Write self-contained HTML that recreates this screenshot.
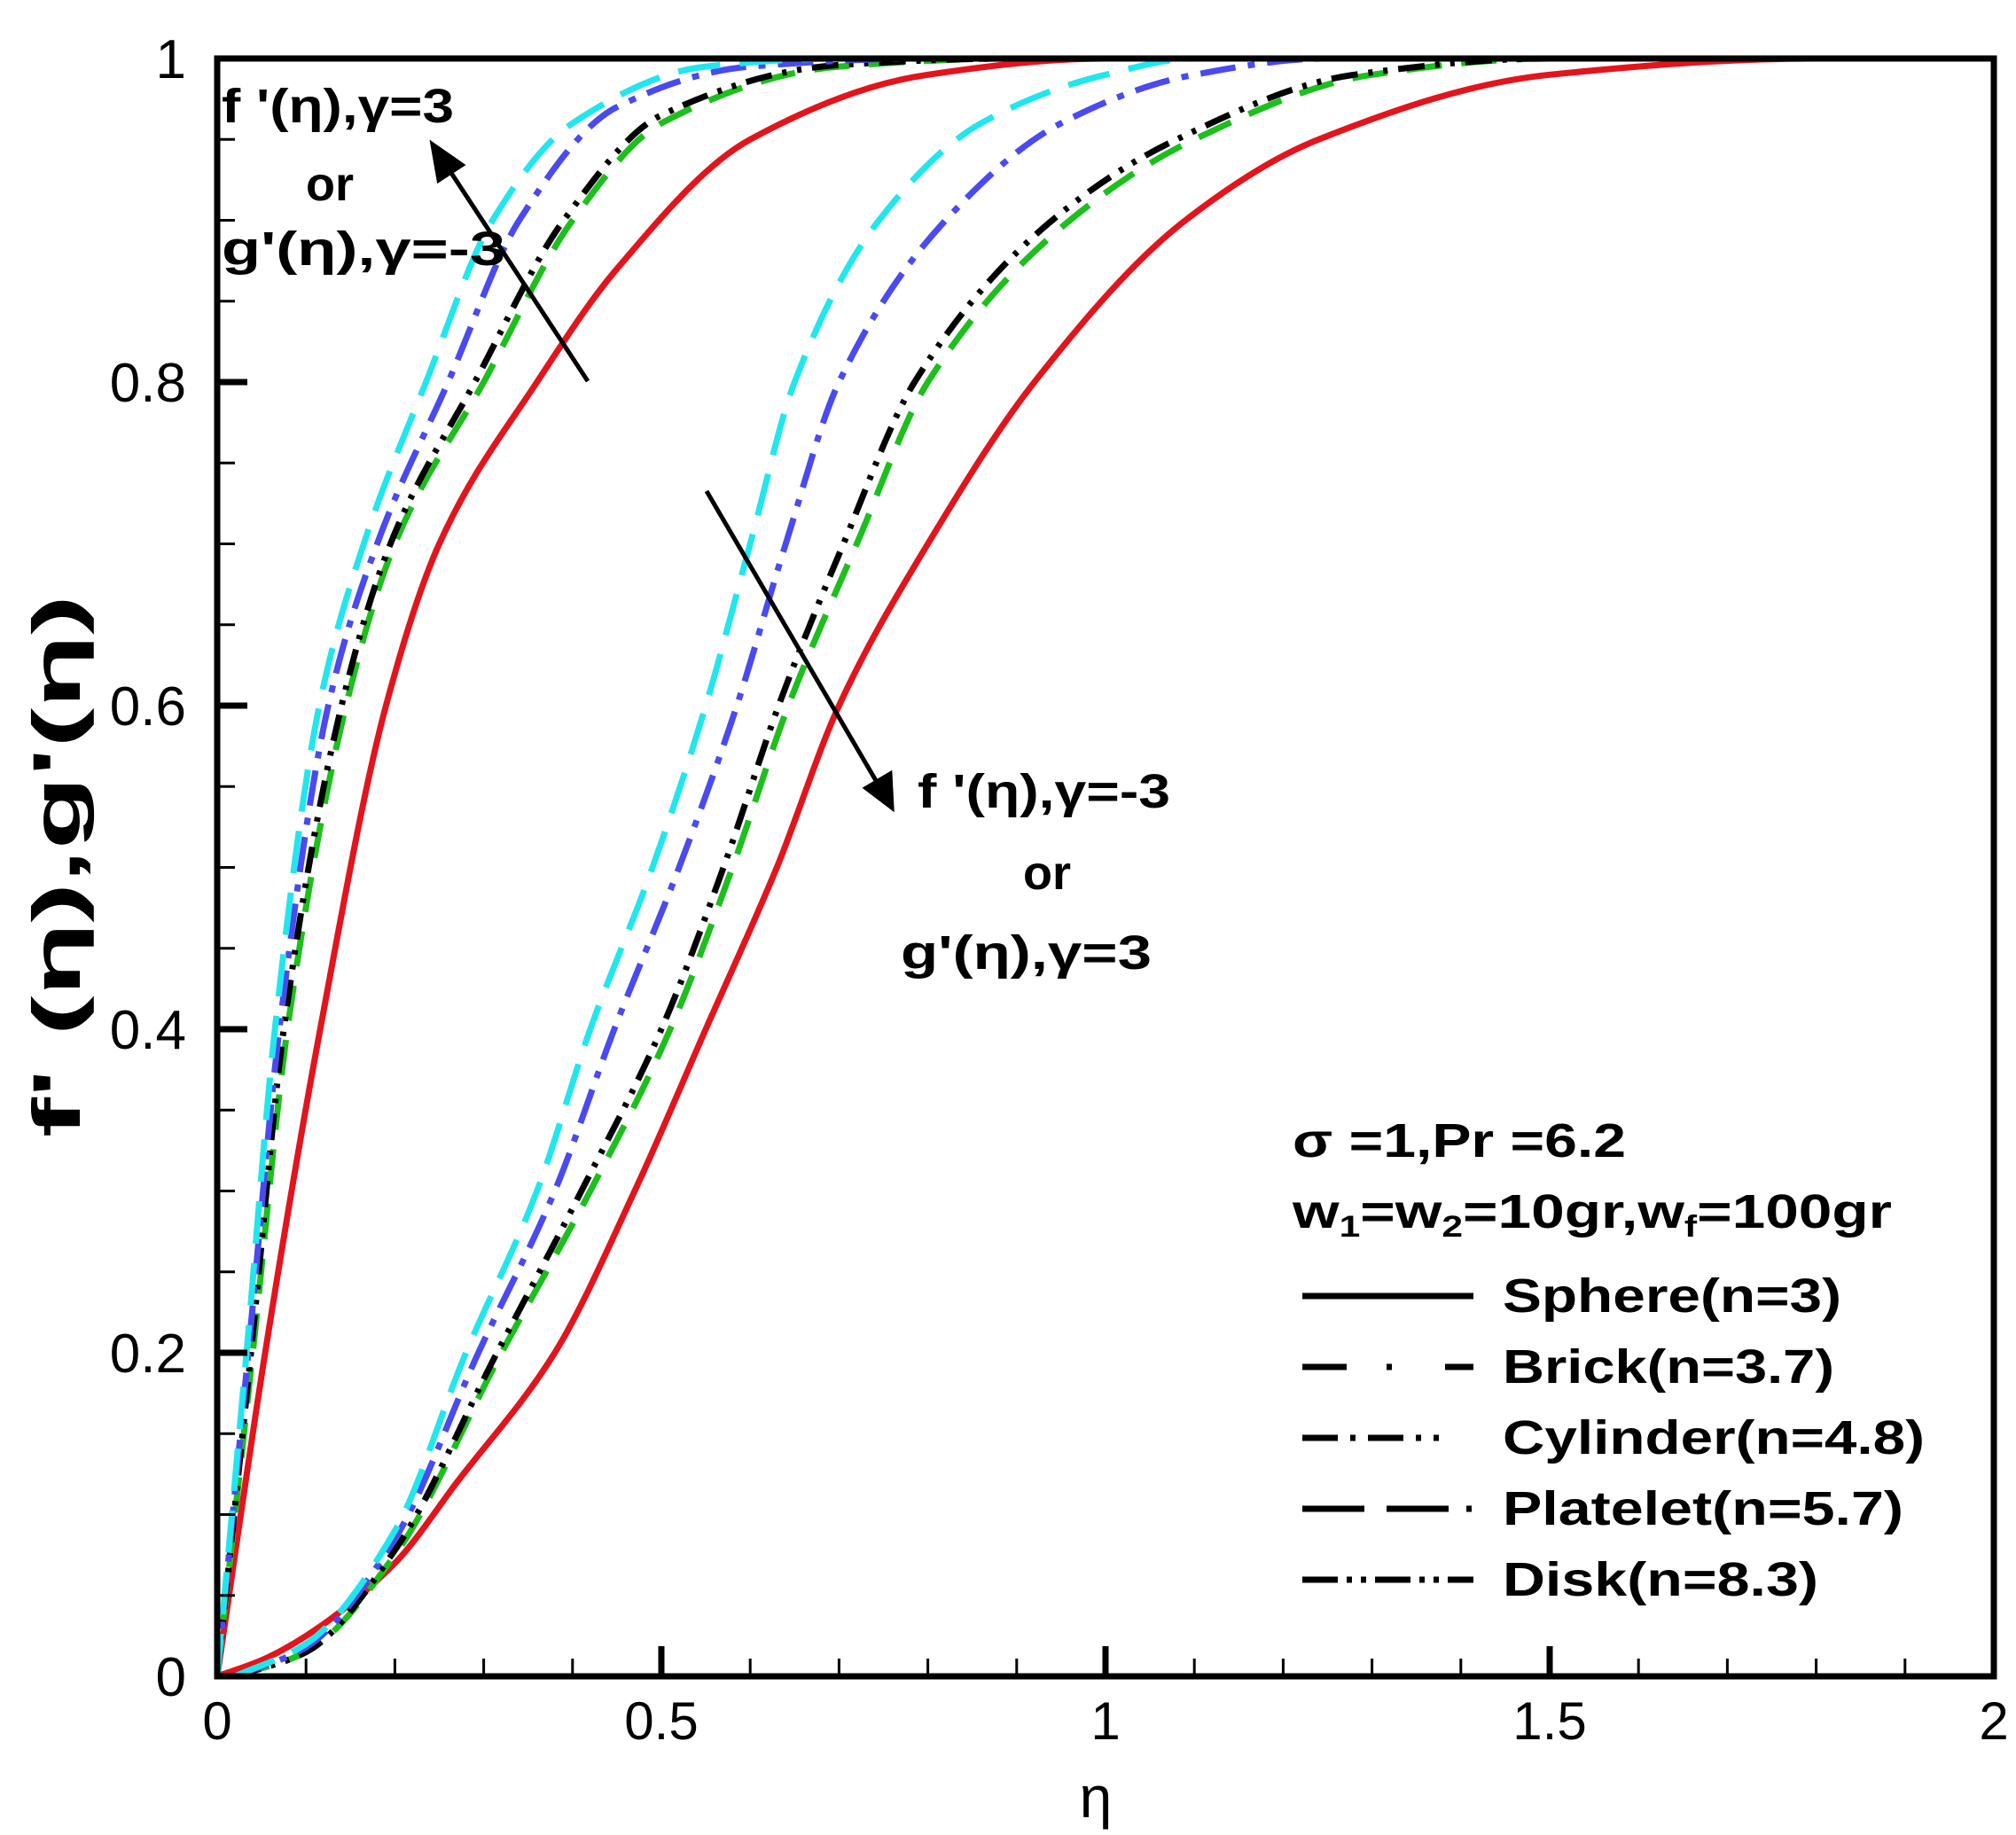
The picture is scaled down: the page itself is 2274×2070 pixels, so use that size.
<!DOCTYPE html>
<html><head><meta charset="utf-8"><style>
html,body{margin:0;padding:0;background:#fff;}
svg{display:block;}
text{font-family:"Liberation Sans",Arial,sans-serif;}
</style></head><body>
<svg id="s" width="2274" height="2070" viewBox="0 0 2274 2070" xmlns="http://www.w3.org/2000/svg">
<g id="curves"></g>
<g id="axes"></g>
<g font-weight="bold" font-size="54" fill="#000">
<text x="250" y="138" textLength="262" lengthAdjust="spacingAndGlyphs">f '(η),γ=3</text>
<text x="372" y="226" text-anchor="middle">or</text>
<text x="250" y="299" textLength="320" lengthAdjust="spacingAndGlyphs">g'(η),γ=-3</text>
<text x="1035" y="911" textLength="285" lengthAdjust="spacingAndGlyphs">f '(η),γ=-3</text>
<text x="1181" y="1003" text-anchor="middle">or</text>
<text x="1016" y="1093" textLength="283" lengthAdjust="spacingAndGlyphs">g'(η),γ=3</text>
<text x="1458" y="1305" textLength="376" lengthAdjust="spacingAndGlyphs">σ =1,Pr =6.2</text>
<text x="1458" y="1385" textLength="676" lengthAdjust="spacingAndGlyphs">w<tspan font-size="34" dy="10">1</tspan><tspan dy="-10">=w</tspan><tspan font-size="34" dy="10">2</tspan><tspan dy="-10">=10gr,w</tspan><tspan font-size="34" dy="10">f</tspan><tspan dy="-10">=100gr</tspan></text>
<text x="1695" y="1480" textLength="382" lengthAdjust="spacingAndGlyphs">Sphere(n=3)</text>
<text x="1695" y="1560" textLength="374" lengthAdjust="spacingAndGlyphs">Brick(n=3.7)</text>
<text x="1695" y="1640" textLength="476" lengthAdjust="spacingAndGlyphs">Cylinder(n=4.8)</text>
<text x="1695" y="1720" textLength="452" lengthAdjust="spacingAndGlyphs">Platelet(n=5.7)</text>
<text x="1695" y="1800" textLength="356" lengthAdjust="spacingAndGlyphs">Disk(n=8.3)</text>
</g>
<g stroke="#000" stroke-width="7">
<line x1="1469" y1="1462" x2="1662" y2="1462"/>
<line x1="1469" y1="1542" x2="1662" y2="1542" stroke-dasharray="50 45 6 60"/>
<line x1="1469" y1="1622" x2="1662" y2="1622" stroke-dasharray="40 14 6 14 40 14 6 14 6 40"/>
<line x1="1469" y1="1702" x2="1662" y2="1702" stroke-dasharray="70 25 70 20 6 40"/>
<line x1="1469" y1="1782" x2="1662" y2="1782" stroke-dasharray="40 10 6 10 6 10"/>
</g>
<g stroke="#000" stroke-width="5" fill="#000">
<line x1="663" y1="430" x2="505" y2="189"/>
<polygon points="488,163 521,186 495,203"/>
<line x1="797" y1="554" x2="990" y2="884"/>
<polygon points="1006,911 977,889 1004,873"/>
</g>
<text x="1236" y="2050" font-size="66" text-anchor="middle">η</text>
<text transform="translate(90,977) rotate(-90)" font-size="76" font-weight="bold" text-anchor="middle" textLength="612" lengthAdjust="spacingAndGlyphs">f' (η),g'(η)</text>
</svg>
<script>
var L=245,R=2249,T=66,B=1891;
function X(x){return L+(R-L)*x/2;} function Y(y){return B-(B-T)*y;}
function path(pts){
var n=pts.length,xs=pts.map(function(a){return a[0]}),ys=pts.map(function(a){return a[1]});
var d=[],m=[];for(var i=0;i<n-1;i++)d.push((ys[i+1]-ys[i])/(xs[i+1]-xs[i]));
m[0]=d[0];m[n-1]=d[n-2];
for(var i=1;i<n-1;i++){if(d[i-1]*d[i]<=0)m[i]=0;else{var w1=2*(xs[i+1]-xs[i])+(xs[i]-xs[i-1]),w2=(xs[i+1]-xs[i])+2*(xs[i]-xs[i-1]);m[i]=(w1+w2)/(w1/d[i-1]+w2/d[i]);}}
var s="M"+X(xs[0]).toFixed(1)+","+Y(ys[0]).toFixed(1);
for(var i=0;i<n-1;i++){var h=xs[i+1]-xs[i];
s+=" C"+X(xs[i]+h/3).toFixed(1)+","+Y(ys[i]+m[i]*h/3).toFixed(1)+" "+X(xs[i+1]-h/3).toFixed(1)+","+Y(ys[i+1]-m[i+1]*h/3).toFixed(1)+" "+X(xs[i+1]).toFixed(1)+","+Y(ys[i+1]).toFixed(1);}
return s;}
var st={red:["#e3141c",""],green:["#1dbf1d","40 22"],black:["#000","30 12 5 12 5 12"],blue:["#4a4af0","40 14 8 14"],cyan:["#22e6ee","48 22"]};
var C=[
["red",[[0,0],[0.054,0.2],[0.116,0.4],[0.19,0.6],[0.25,0.7],[0.36,0.8],[0.45,0.87],[0.6,0.95],[0.8,0.99],[1.0,1.0],[2,1]]],
["red",[[0,0],[0.05,0.01],[0.1,0.025],[0.2,0.07],[0.27,0.12],[0.38,0.2],[0.47,0.3],[0.55,0.4],[0.63,0.5],[0.70,0.6],[0.8,0.7],[0.92,0.8],[1.09,0.9],[1.24,0.95],[1.5,0.99],[1.8,1],[2,1]]],
["green",[[0,0],[0.04,0.2],[0.079,0.4],[0.145,0.6],[0.2,0.7],[0.3,0.8],[0.4,0.9],[0.5,0.96],[0.7,0.995],[0.9,1],[2,1]]],
["green",[[0.02,0],[0.1,0.015],[0.2,0.075],[0.32,0.2],[0.42,0.3],[0.51,0.4],[0.58,0.5],[0.643,0.6],[0.72,0.7],[0.8,0.8],[0.96,0.9],[1.1,0.95],[1.3,0.99],[1.5,1],[2,1]]],
["black",[[0,0],[0.038,0.2],[0.075,0.4],[0.14,0.6],[0.195,0.7],[0.29,0.8],[0.39,0.9],[0.5,0.965],[0.7,0.996],[0.9,1],[2,1]]],
["black",[[0.02,0],[0.1,0.015],[0.2,0.078],[0.315,0.2],[0.41,0.3],[0.5,0.4],[0.57,0.5],[0.632,0.6],[0.705,0.7],[0.785,0.8],[0.94,0.9],[1.08,0.95],[1.28,0.99],[1.5,1],[2,1]]],
["blue",[[0,0],[0.035,0.2],[0.07,0.4],[0.125,0.6],[0.18,0.7],[0.26,0.8],[0.34,0.9],[0.45,0.97],[0.6,0.995],[0.8,1],[2,1]]],
["blue",[[0.02,0],[0.1,0.018],[0.2,0.085],[0.294,0.2],[0.38,0.3],[0.447,0.4],[0.52,0.5],[0.585,0.6],[0.64,0.7],[0.70,0.8],[0.82,0.9],[0.95,0.96],[1.1,0.99],[1.25,1],[2,1]]],
["cyan",[[0,0],[0.033,0.2],[0.065,0.4],[0.115,0.6],[0.165,0.7],[0.235,0.8],[0.31,0.9],[0.4,0.96],[0.55,0.995],[0.7,1],[2,1]]],
["cyan",[[0.02,0],[0.1,0.02],[0.2,0.09],[0.28,0.2],[0.36,0.3],[0.42,0.4],[0.49,0.5],[0.55,0.6],[0.6,0.7],[0.65,0.8],[0.745,0.9],[0.86,0.96],[1.0,0.99],[1.1,1],[2,1]]]];
var g="";C.forEach(function(c){var s=st[c[0]];g+='<path d="'+path(c[1])+'" fill="none" stroke="'+s[0]+'" stroke-width="7"'+(s[1]?' stroke-dasharray="'+s[1]+'"':'')+'/>';});
document.getElementById("curves").innerHTML=g;
var a='<rect x="'+L+'" y="'+T+'" width="'+(R-L)+'" height="'+(B-T)+'" fill="none" stroke="#000" stroke-width="7"/>';
for(var i=0;i<=20;i++){var x=X(i/10),mj=i%5==0;a+='<line x1="'+x+'" y1="'+B+'" x2="'+x+'" y2="'+(B-(mj?34:20))+'" stroke="#000" stroke-width="'+(mj?7:3)+'"/>';
if(mj)a+='<text x="'+x+'" y="1962" font-size="60" text-anchor="middle">'+(i/10)+'</text>';}
for(var i=0;i<=20;i++){var y=Y(i/20),mj=i%4==0;a+='<line x1="'+L+'" y1="'+y+'" x2="'+(L+(mj?34:20))+'" y2="'+y+'" stroke="#000" stroke-width="'+(mj?7:3)+'"/>';
if(mj)a+='<text x="210" y="'+(y+22)+'" font-size="62" text-anchor="end">'+(i/20)+'</text>';}
document.getElementById("axes").innerHTML=a;
</script>
</body></html>
